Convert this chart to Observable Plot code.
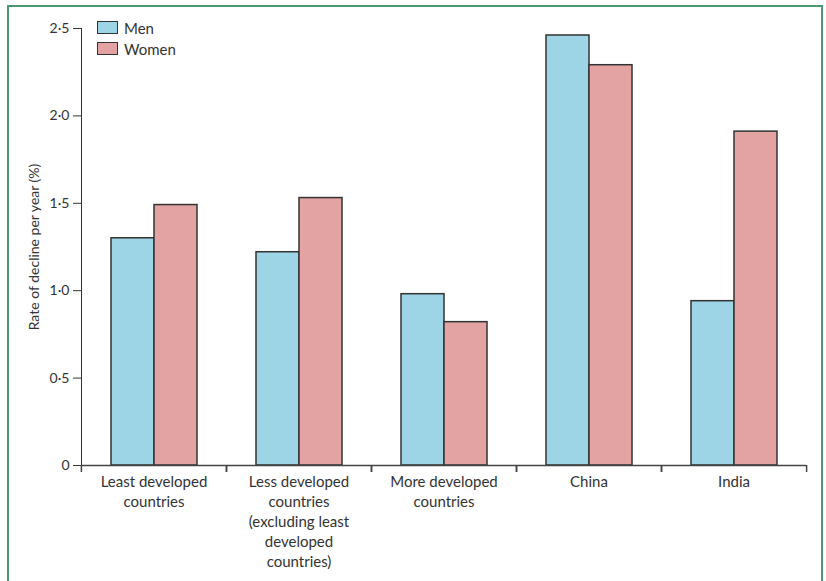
<!DOCTYPE html>
<html>
<head>
<meta charset="utf-8">
<script src="https://cdn.jsdelivr.net/npm/d3@7"></script>
<script src="https://cdn.jsdelivr.net/npm/@observablehq/plot@0.6"></script>
<style>
  html, body { margin: 0; padding: 0; background: #fff; }
  #wrap { position: relative; width: 826px; height: 581px; overflow: hidden; font-family: Lato, "Open Sans", sans-serif; }
  #border { position: absolute; left: 7px; top: 5px; width: 816px; height: 640px; border: 2px solid #4a9870; border-bottom: none; box-sizing: border-box; }
  #chart { position: absolute; left: 0; top: 0; }
  #legend { position: absolute; left: 97px; top: 17px; font-size: 15px; color: #333; }
  .item { display: flex; align-items: center; height: 21px; }
  .sw { width: 19px; height: 11px; border: 1.2px solid #333; margin-right: 6px; }
</style>
</head>
<body>
<div id="wrap">
  <div id="border"></div>
  <div id="chart"></div>
  <div id="legend"></div>
</div>
<script>
const categories = ["LDC", "LessDC", "MDC", "China", "India"];
const categoryLabels = [
  "Least developed\ncountries",
  "Less developed\ncountries\n(excluding least\ndeveloped\ncountries)",
  "More developed\ncountries",
  "China",
  "India"
];
const sexes = ["Men", "Women"];
const men = [1.30, 1.22, 0.98, 2.46, 0.94];
const women = [1.49, 1.53, 0.82, 2.29, 1.91];
const yTicks = [0, 0.5, 1.0, 1.5, 2.0, 2.5];
const colors = ["#9dd5e7", "#e2a3a2"];

const data = categories.flatMap((c, i) => [
  {cat: c, sex: "Men", value: men[i]},
  {cat: c, sex: "Women", value: women[i]}
]);

const W = 826, H = 581, mL = 80, mR = 20, mT = 28, mB = 116;
const step = (W - mL - mR) / categories.length;
const fmt = d => d === 0 ? "0" : d.toFixed(1).replace(".", "·");

const chart = Plot.plot({
  width: W, height: H,
  marginLeft: mL, marginRight: mR, marginTop: mT, marginBottom: mB,
  style: {fontFamily: "Lato, 'Open Sans', sans-serif", fontSize: "14px", color: "#333", background: "transparent", overflow: "visible"},
  fx: {domain: categories, padding: 0, axis: null},
  x: {domain: sexes, paddingInner: 0, paddingOuter: 0.68, axis: null},
  y: {domain: [0, 2.5], ticks: yTicks, tickFormat: fmt, tickSize: 8, tickPadding: 4, line: true,
      label: "Rate of decline per year (%)", labelAnchor: "center", labelOffset: 52, labelArrow: "none"},
  color: {domain: sexes, range: colors},
  marks: [
    Plot.barY(data, {fx: "cat", x: "sex", y: "value", fill: "sex", stroke: "#333", strokeWidth: 1.5}),
    Plot.ruleY([0], {stroke: "#444", strokeWidth: 1.5}),
    Plot.axisFx({anchor: "bottom", tickSize: 0, tickPadding: 7, label: null, lineHeight: 1.34, fontSize: 15, fill: "#333",
      tickFormat: d => categoryLabels[categories.indexOf(d)]}),
    Plot.axisFx({anchor: "bottom", text: null, tickSize: 7, dx: -step / 2, label: null, stroke: "#444", strokeWidth: 1.5}),
    Plot.axisFx({anchor: "bottom", text: null, tickSize: 7, dx: step / 2, label: null, stroke: "#444", strokeWidth: 1.5})
  ]
});
document.getElementById("chart").appendChild(chart);

const legend = document.getElementById("legend");
sexes.forEach((s, i) => {
  const row = document.createElement("div");
  row.className = "item";
  const sw = document.createElement("div");
  sw.className = "sw";
  sw.style.background = colors[i];
  const t = document.createElement("span");
  t.textContent = s;
  row.appendChild(sw); row.appendChild(t);
  legend.appendChild(row);
});
</script>
</body>
</html>
